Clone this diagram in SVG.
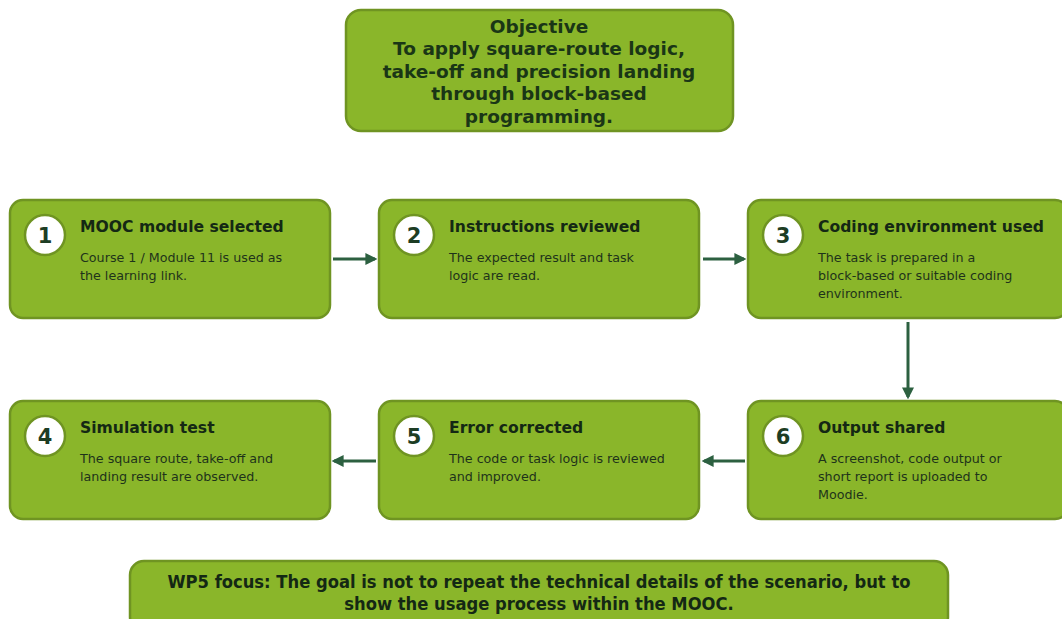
<svg xmlns="http://www.w3.org/2000/svg" width="1062" height="619" viewBox="0 0 1062 619">
  <style>
    .box { fill: #8ab62a; stroke: #6f9422; stroke-width: 2.5; }
    .badge { fill: #ffffff; stroke: #6f9422; stroke-width: 2.5; }
    .num { font-family: "DejaVu Sans", sans-serif; font-weight: bold; font-size: 21px; fill: #1d3d24; text-anchor: middle; }
    .title { font-family: "DejaVu Sans", sans-serif; font-weight: bold; font-size: 15.6px; fill: #142814; }
    .desc { font-family: "DejaVu Sans", sans-serif; font-size: 12.7px; fill: #1e331a; }
    .obj { font-family: "DejaVu Sans", sans-serif; font-weight: bold; font-size: 18.5px; fill: #1a3616; text-anchor: middle; }
    .note { font-family: "DejaVu Sans Condensed", "DejaVu Sans", sans-serif; font-weight: bold; font-size: 18.2px; fill: #142814; text-anchor: middle; }
    .conn { stroke: #2c6040; stroke-width: 3; fill: none; marker-end: url(#head); }
  </style>
  <defs>
    <marker id="head" viewBox="0 0 10 10" refX="8" refY="5" markerWidth="4" markerHeight="4" orient="auto">
      <path d="M0,0 L10,5 L0,10 z" fill="#2c6040"/>
    </marker>
  </defs>
  <rect width="1062" height="619" fill="#ffffff"/>

  <!-- objective -->
  <g id="objective">
    <rect class="box" x="346" y="10" width="387" height="121" rx="15"/>
    <text class="obj" x="539" y="33">Objective</text>
    <text class="obj" x="539" y="55">To apply square-route logic,</text>
    <text class="obj" x="539" y="78">take-off and precision landing</text>
    <text class="obj" x="539" y="100">through block-based</text>
    <text class="obj" x="539" y="123">programming.</text>
  </g>

  <!-- step cards -->
  <g id="step1">
    <rect class="box" x="10" y="200" width="320" height="118" rx="13"/>
    <circle class="badge" cx="45" cy="235" r="20"/>
    <text class="num" x="45" y="243">1</text>
    <text class="title" x="80" y="232">MOOC module selected</text>
    <text class="desc" x="80" y="262">Course 1 / Module 11 is used as</text>
    <text class="desc" x="80" y="280">the learning link.</text>
  </g>
  <g id="step2">
    <rect class="box" x="379" y="200" width="320" height="118" rx="13"/>
    <circle class="badge" cx="414" cy="235" r="20"/>
    <text class="num" x="414" y="243">2</text>
    <text class="title" x="449" y="232">Instructions reviewed</text>
    <text class="desc" x="449" y="262">The expected result and task</text>
    <text class="desc" x="449" y="280">logic are read.</text>
  </g>
  <g id="step3">
    <rect class="box" x="748" y="200" width="320" height="118" rx="13"/>
    <circle class="badge" cx="783" cy="235" r="20"/>
    <text class="num" x="783" y="243">3</text>
    <text class="title" x="818" y="232">Coding environment used</text>
    <text class="desc" x="818" y="262">The task is prepared in a</text>
    <text class="desc" x="818" y="280">block-based or suitable coding</text>
    <text class="desc" x="818" y="298">environment.</text>
  </g>
  <g id="step4">
    <rect class="box" x="10" y="401" width="320" height="118" rx="13"/>
    <circle class="badge" cx="45" cy="436" r="20"/>
    <text class="num" x="45" y="444">4</text>
    <text class="title" x="80" y="433">Simulation test</text>
    <text class="desc" x="80" y="463">The square route, take-off and</text>
    <text class="desc" x="80" y="481">landing result are observed.</text>
  </g>
  <g id="step5">
    <rect class="box" x="379" y="401" width="320" height="118" rx="13"/>
    <circle class="badge" cx="414" cy="436" r="20"/>
    <text class="num" x="414" y="444">5</text>
    <text class="title" x="449" y="433">Error corrected</text>
    <text class="desc" x="449" y="463">The code or task logic is reviewed</text>
    <text class="desc" x="449" y="481">and improved.</text>
  </g>
  <g id="step6">
    <rect class="box" x="748" y="401" width="320" height="118" rx="13"/>
    <circle class="badge" cx="783" cy="436" r="20"/>
    <text class="num" x="783" y="444">6</text>
    <text class="title" x="818" y="433">Output shared</text>
    <text class="desc" x="818" y="463">A screenshot, code output or</text>
    <text class="desc" x="818" y="481">short report is uploaded to</text>
    <text class="desc" x="818" y="499">Moodie.</text>
  </g>

  <!-- connectors -->
  <g id="connectors">
    <line class="conn" x1="333" y1="259" x2="375" y2="259"/>
    <line class="conn" x1="703" y1="259" x2="744" y2="259"/>
    <line class="conn" x1="908" y1="322" x2="908" y2="397"/>
    <line class="conn" x1="745" y1="461" x2="704" y2="461"/>
    <line class="conn" x1="376" y1="461" x2="334" y2="461"/>
  </g>

  <!-- footer note -->
  <g id="focus">
    <rect class="box" x="130" y="561" width="818" height="70" rx="14"/>
    <text class="note" x="539" y="588">WP5 focus: The goal is not to repeat the technical details of the scenario, but to</text>
    <text class="note" x="539" y="610">show the usage process within the MOOC.</text>
  </g>
</svg>
